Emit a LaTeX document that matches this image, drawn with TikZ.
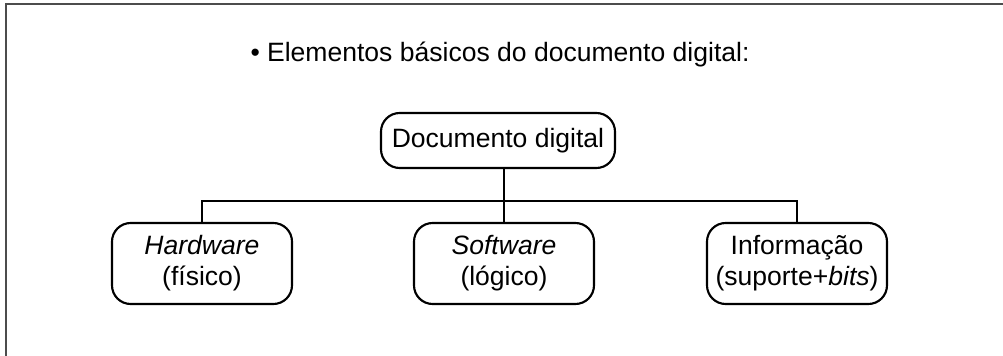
\documentclass[tikz,border=0pt]{standalone}
\usepackage{fontspec}
\setmainfont{Liberation Sans}
\usepackage{xcolor}
\definecolor{frame}{rgb}{0.3, 0.3, 0.3}

\begin{document}
\begin{tikzpicture}[x=0.75pt, y=-0.75pt,
  txt/.style={font=\fontsize{19.9}{23.3}\selectfont},
  box/.style={txt, draw, line width=1.6pt, rounded corners=14pt, align=center, inner sep=0pt},
  conn/.style={line width=1.6pt}]
\useasboundingbox (0, 0) rectangle (1003, 356);
\begin{scope}
\clip (0, 0) rectangle (1003, 356);
\draw [line width=1.5pt, frame] (6, 4.5) rectangle (1030, 380);
\end{scope}
\node [txt, anchor=base] (title) at (500, 62) {\textbullet\ Elementos básicos do documento digital:};
\node [box, minimum width=175.5pt, minimum height=41.25pt] (doc) at (498, 140.5) {Documento digital};
\node [box, minimum width=135pt, minimum height=60.75pt] (hw) at (202, 263.5) {\textit{Hardware}\\(físico)};
\node [box, minimum width=135pt, minimum height=60.75pt] (sw) at (504, 263.5) {\textit{Software}\\(lógico)};
\node [box, minimum width=135pt, minimum height=60.75pt] (info) at (797, 263.5) {Informação\\(suporte+\textit{bits})};
\coordinate (bar) at (500, 201);
\draw [conn] (doc.south -| sw.north) -- (sw.north);
\draw [conn] (hw.north) -- (hw.north |- bar) -- (info.north |- bar) -- (info.north);
\end{tikzpicture}
\end{document}
